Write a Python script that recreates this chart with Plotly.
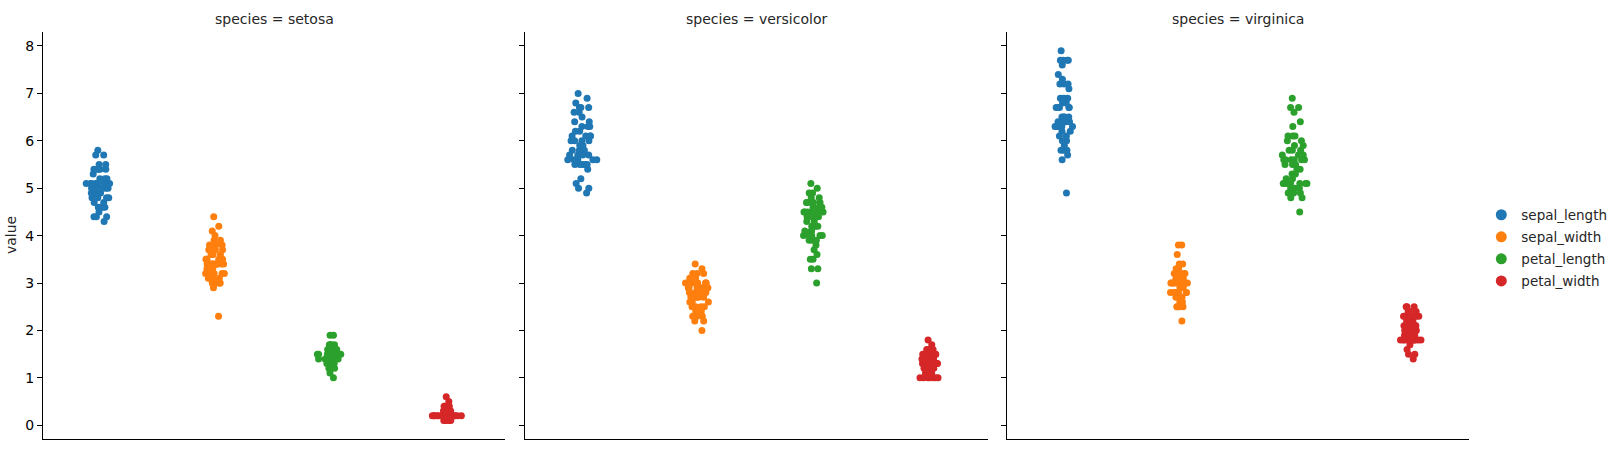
import plotly.graph_objects as go

species = ["setosa", "versicolor", "virginica"]
variables = ["sepal_length", "sepal_width", "petal_length", "petal_width"]
colors = ["#1f77b4", "#ff7f0e", "#2ca02c", "#d62728"]

setosa_sepal_length = [5.1, 4.9, 4.7, 4.6, 5.0, 5.4, 4.6, 5.0, 4.4, 4.9, 5.4, 4.8, 4.8, 4.3, 5.8, 5.7, 5.4, 5.1, 5.7, 5.1,
                       5.4, 5.1, 4.6, 5.1, 4.8, 5.0, 5.0, 5.2, 5.2, 4.7, 4.8, 5.4, 5.2, 5.5, 4.9, 5.0, 5.5, 4.9, 4.4, 5.1,
                       5.0, 4.5, 4.4, 5.0, 5.1, 4.8, 5.1, 4.6, 5.3, 5.0]
setosa_sepal_width = [3.5, 3.0, 3.2, 3.1, 3.6, 3.9, 3.4, 3.4, 2.9, 3.1, 3.7, 3.4, 3.0, 3.0, 4.0, 4.4, 3.9, 3.5, 3.8, 3.8,
                      3.4, 3.7, 3.6, 3.3, 3.4, 3.0, 3.4, 3.5, 3.4, 3.2, 3.1, 3.4, 4.1, 4.2, 3.1, 3.2, 3.5, 3.6, 3.0, 3.4,
                      3.5, 2.3, 3.2, 3.5, 3.8, 3.0, 3.8, 3.2, 3.7, 3.3]
setosa_petal_length = [1.4, 1.4, 1.3, 1.5, 1.4, 1.7, 1.4, 1.5, 1.4, 1.5, 1.5, 1.6, 1.4, 1.1, 1.2, 1.5, 1.3, 1.4, 1.7, 1.5,
                       1.7, 1.5, 1.0, 1.7, 1.9, 1.6, 1.6, 1.5, 1.4, 1.6, 1.6, 1.5, 1.5, 1.4, 1.5, 1.2, 1.3, 1.4, 1.3, 1.5,
                       1.3, 1.3, 1.3, 1.6, 1.9, 1.4, 1.6, 1.4, 1.5, 1.4]
setosa_petal_width = [0.2, 0.2, 0.2, 0.2, 0.2, 0.4, 0.3, 0.2, 0.2, 0.1, 0.2, 0.2, 0.1, 0.1, 0.2, 0.4, 0.4, 0.3, 0.3, 0.3,
                      0.2, 0.4, 0.2, 0.5, 0.2, 0.2, 0.4, 0.2, 0.2, 0.2, 0.2, 0.4, 0.1, 0.2, 0.2, 0.2, 0.2, 0.1, 0.2, 0.2,
                      0.3, 0.3, 0.2, 0.6, 0.4, 0.3, 0.2, 0.2, 0.2, 0.2]

versicolor_sepal_length = [7.0, 6.4, 6.9, 5.5, 6.5, 5.7, 6.3, 4.9, 6.6, 5.2, 5.0, 5.9, 6.0, 6.1, 5.6, 6.7, 5.6, 5.8, 6.2, 5.6,
                           5.9, 6.1, 6.3, 6.1, 6.4, 6.6, 6.8, 6.7, 6.0, 5.7, 5.5, 5.5, 5.8, 6.0, 5.4, 6.0, 6.7, 6.3, 5.6, 5.5,
                           5.5, 6.1, 5.8, 5.0, 5.6, 5.7, 5.7, 6.2, 5.1, 5.7]
versicolor_sepal_width = [3.2, 3.2, 3.1, 2.3, 2.8, 2.8, 3.3, 2.4, 2.9, 2.7, 2.0, 3.0, 2.2, 2.9, 2.9, 3.1, 3.0, 2.7, 2.2, 2.5,
                          3.2, 2.8, 2.5, 2.8, 2.9, 3.0, 2.8, 3.0, 2.9, 2.6, 2.4, 2.4, 2.7, 2.7, 3.0, 3.4, 3.1, 2.3, 3.0, 2.5,
                          2.6, 3.0, 2.6, 2.3, 2.7, 3.0, 2.9, 2.9, 2.5, 2.8]
versicolor_petal_length = [4.7, 4.5, 4.9, 4.0, 4.6, 4.5, 4.7, 3.3, 4.6, 3.9, 3.5, 4.2, 4.0, 4.7, 3.6, 4.4, 4.5, 4.1, 4.5, 3.9,
                           4.8, 4.0, 4.9, 4.7, 4.3, 4.4, 4.8, 5.0, 4.5, 3.5, 3.8, 3.7, 3.9, 5.1, 4.5, 4.5, 4.7, 4.4, 4.1, 4.0,
                           4.4, 4.6, 4.0, 3.3, 4.2, 4.2, 4.2, 4.3, 3.0, 4.1]
versicolor_petal_width = [1.4, 1.5, 1.5, 1.3, 1.5, 1.3, 1.6, 1.0, 1.3, 1.4, 1.0, 1.5, 1.0, 1.4, 1.3, 1.4, 1.5, 1.0, 1.5, 1.1,
                          1.8, 1.3, 1.5, 1.2, 1.3, 1.4, 1.4, 1.7, 1.5, 1.0, 1.1, 1.0, 1.2, 1.6, 1.5, 1.6, 1.5, 1.3, 1.3, 1.3,
                          1.2, 1.4, 1.2, 1.0, 1.3, 1.2, 1.3, 1.3, 1.1, 1.3]

virginica_sepal_length = [6.3, 5.8, 7.1, 6.3, 6.5, 7.6, 4.9, 7.3, 6.7, 7.2, 6.5, 6.4, 6.8, 5.7, 5.8, 6.4, 6.5, 7.7, 7.7, 6.0,
                          6.9, 5.6, 7.7, 6.3, 6.7, 7.2, 6.2, 6.1, 6.4, 7.2, 7.4, 7.9, 6.4, 6.3, 6.1, 7.7, 6.3, 6.4, 6.0, 6.9,
                          6.7, 6.9, 5.8, 6.8, 6.7, 6.7, 6.3, 6.5, 6.2, 5.9]
virginica_sepal_width = [3.3, 2.7, 3.0, 2.9, 3.0, 3.0, 2.5, 2.9, 2.5, 3.6, 3.2, 2.7, 3.0, 2.5, 2.8, 3.2, 3.0, 3.8, 2.6, 2.2,
                         3.2, 2.8, 2.8, 2.7, 3.3, 3.2, 2.8, 3.0, 2.8, 3.0, 2.8, 3.8, 2.8, 2.8, 2.6, 3.0, 3.4, 3.1, 3.0, 3.1,
                         3.1, 3.1, 2.7, 3.2, 3.3, 3.0, 2.5, 3.0, 3.4, 3.0]
virginica_petal_length = [6.0, 5.1, 5.9, 5.6, 5.8, 6.6, 4.5, 6.3, 5.8, 6.1, 5.1, 5.3, 5.5, 5.0, 5.1, 5.3, 5.5, 6.7, 6.9, 5.0,
                          5.7, 4.9, 6.7, 4.9, 5.7, 6.0, 4.8, 4.9, 5.6, 5.8, 6.1, 6.4, 5.6, 5.1, 5.6, 6.1, 5.6, 5.5, 4.8, 5.4,
                          5.6, 5.1, 5.1, 5.9, 5.7, 5.2, 5.0, 5.2, 5.4, 5.1]
virginica_petal_width = [2.5, 1.9, 2.1, 1.8, 2.2, 2.1, 1.7, 1.8, 1.8, 2.5, 2.0, 1.9, 2.1, 2.0, 2.4, 2.3, 1.8, 2.2, 2.3, 1.5,
                         2.3, 2.0, 2.0, 1.8, 2.1, 1.8, 1.8, 1.8, 2.1, 1.6, 1.9, 2.0, 2.2, 1.5, 1.4, 2.3, 2.4, 1.8, 1.8, 2.1,
                         2.4, 2.3, 1.9, 2.3, 2.5, 2.3, 1.9, 2.0, 2.3, 1.8]

data = {
    "setosa": [setosa_sepal_length, setosa_sepal_width, setosa_petal_length, setosa_petal_width],
    "versicolor": [versicolor_sepal_length, versicolor_sepal_width, versicolor_petal_length, versicolor_petal_width],
    "virginica": [virginica_sepal_length, virginica_sepal_width, virginica_petal_length, virginica_petal_width],
}

W, H = 1613, 453
L, R, T, B = 43.4, 1468.7, 31.7, 439.3
PW, PH = R - L, B - T
panels_px = [(43.4, 505.5), (525.3, 987.7), (1006.7, 1468.7)]
domains = [((a - L) / PW, (b - L) / PW) for a, b in panels_px]

FONT = "DejaVu Sans"
TXT = "#262626"

fig = go.Figure()
for si, sp in enumerate(species):
    xa = "x" if si == 0 else f"x{si + 1}"
    ya = "y" if si == 0 else f"y{si + 1}"
    for vi, var in enumerate(variables):
        vals = data[sp][vi]
        fig.add_trace(go.Box(
            x=[var] * len(vals), y=vals, name=var,
            boxpoints="all", jitter=1, pointpos=0, width=0.27,
            fillcolor="rgba(0,0,0,0)", line=dict(color="rgba(0,0,0,0)", width=0),
            marker=dict(color=colors[vi], size=7, opacity=1, line=dict(width=0)),
            showlegend=False, xaxis=xa, yaxis=ya, hoveron="points",
        ))

for vi, var in enumerate(variables):
    fig.add_trace(go.Scatter(
        x=[None], y=[None], mode="markers", name=var, legendgroup=var,
        marker=dict(color=colors[vi], size=11), showlegend=True,
    ))

layout = dict(
    width=W, height=H,
    margin=dict(l=L, r=W - R, t=T, b=H - B, pad=0, autoexpand=False),
    paper_bgcolor="white", plot_bgcolor="white",
    font=dict(family=FONT, size=14, color=TXT),
    boxmode="overlay",
    showlegend=True,
    legend=dict(x=(1481 - L) / PW, xanchor="left", y=1 - (248 - T) / PH, yanchor="middle",
                font=dict(size=13.5, color=TXT), bgcolor="rgba(0,0,0,0)", borderwidth=0,
                tracegroupgap=1.5),
)
for si in range(3):
    kx = "xaxis" if si == 0 else f"xaxis{si + 1}"
    ky = "yaxis" if si == 0 else f"yaxis{si + 1}"
    layout[kx] = dict(
        domain=list(domains[si]), anchor="y" if si == 0 else f"y{si + 1}",
        type="category", categoryorder="array", categoryarray=variables,
        range=[-0.5, 3.5], showticklabels=False, ticks="", showgrid=False, zeroline=False,
        showline=True, linecolor="black", linewidth=1, fixedrange=True,
    )
    layout[ky] = dict(
        domain=[0, 1], anchor="x" if si == 0 else f"x{si + 1}",
        range=[-0.29, 8.295], tickmode="array", tickvals=list(range(9)),
        showticklabels=(si == 0), ticks="outside", ticklen=5, tickwidth=1, tickcolor="black",
        showgrid=False, zeroline=False, showline=True, linecolor="black", linewidth=1,
        tickfont=dict(family=FONT, size=14, color="black"),
    )
fig.update_layout(**layout)

annotations = []
for si, sp in enumerate(species):
    d0, d1 = domains[si]
    annotations.append(dict(
        text=f"species = {sp}", x=(d0 + d1) / 2, y=1 + (T - 19) / PH, xref="paper", yref="paper",
        xanchor="center", yanchor="middle", showarrow=False, font=dict(family=FONT, size=14, color=TXT),
    ))
annotations.append(dict(
    text="value", x=(11 - L) / PW, y=0.5, xref="paper", yref="paper", textangle=-90,
    xanchor="center", yanchor="middle", showarrow=False, font=dict(family=FONT, size=14, color=TXT),
))
fig.update_layout(annotations=annotations)

fig.write_html("out.html")
